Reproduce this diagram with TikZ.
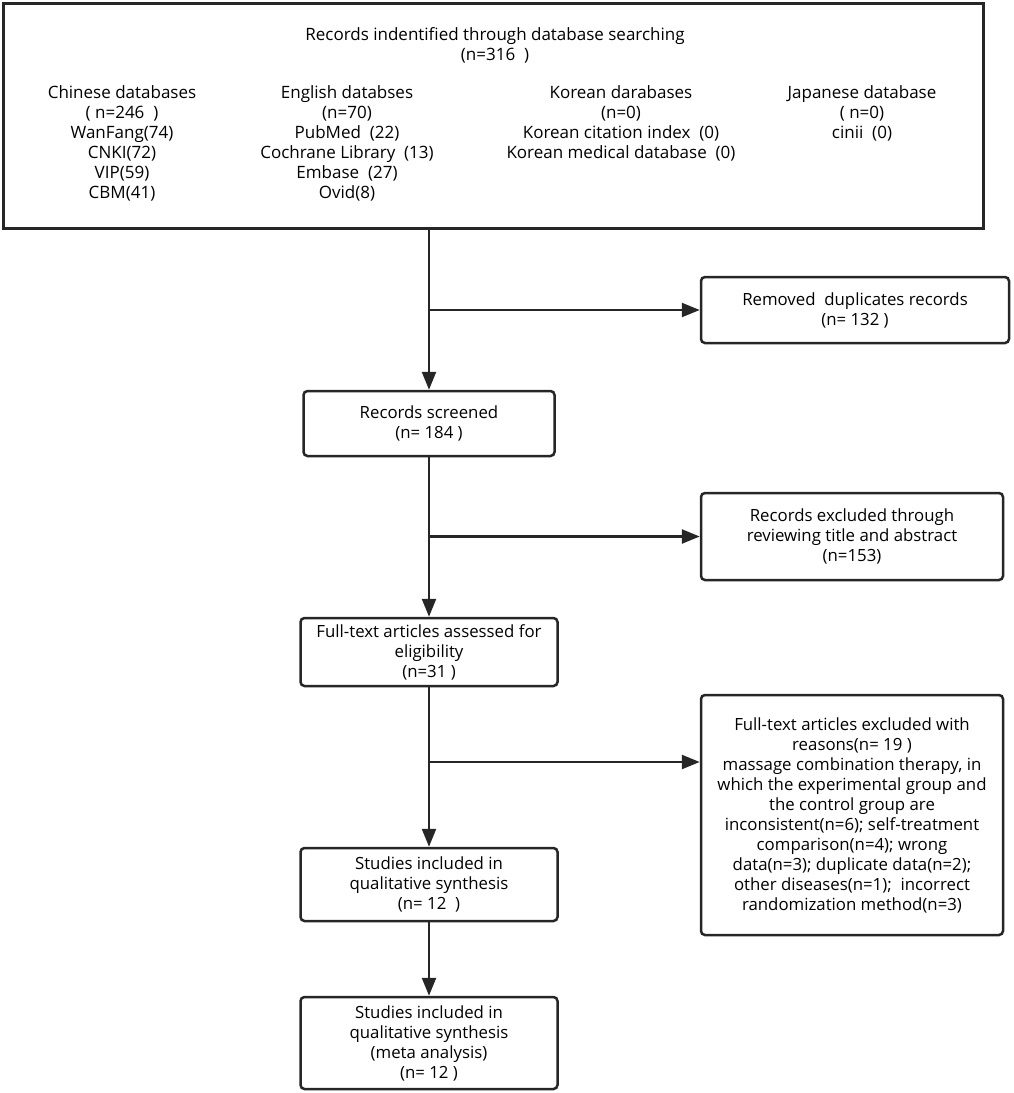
\documentclass[tikz,border=0pt]{standalone}
\usepackage{fontspec}
\setmainfont{Open Sans}
\newfontfamily\topfont{Open Sans}
\newfontfamily\condfont{Open Sans}
\usetikzlibrary{arrows.meta}
\definecolor{ln}{HTML}{262626}
\begin{document}
\begin{tikzpicture}[x=1pt,y=-1pt,
  box/.style={draw=ln, line width=2.5pt, rounded corners=4pt, align=center, inner sep=0pt,
    font=\condfont\fontsize{16.8}{20}\selectfont, text=black},
  toptxt/.style={align=center, inner sep=0pt, font=\topfont\fontsize{17}{20}\selectfont, text=black},
  arr/.style={draw=ln, line width=2.5pt, -{Triangle[length=18pt,width=14pt]}},
  ln2/.style={draw=ln, line width=2.5pt}]
\useasboundingbox (0,0) rectangle (1013,1093);
% top box
\node[draw=ln, line width=3pt, minimum width=980pt, minimum height=225pt, inner sep=0pt] (top) at (493,115.5) {};
\node[toptxt] (title) at (495,45) {Records indentified through database searching\\(n=316\ \ )};
\node[toptxt] (cn) at (122,143) {Chinese databases\\(\ n=246\ \ )\\WanFang(74)\\CNKI(72)\\VIP(59)\\CBM(41)};
\node[toptxt] (en) at (347,143) {English databses\\(n=70)\\PubMed\ \ (22)\\Cochrane Library\ \ (13)\\Embase\ \ (27)\\Ovid(8)};
\node[toptxt] (kr) at (621,123) {Korean darabases\\(n=0)\\Korean citation index\ \ (0)\\Korean medical database\ \ (0)};
\node[toptxt] (jp) at (862,113) {Japanese database\\(\ n=0)\\cinii\ \ (0)};
% left column
\node[box, minimum width=251pt, minimum height=65pt] (screened) at (429,423.5) {Records screened\\(n= 184 )};
\node[box, minimum width=257pt, minimum height=68pt] (full) at (429,652) {Full-text articles assessed for\\eligibility\\(n=31 )};
\node[box, minimum width=257pt, minimum height=73pt] (incl1) at (429,884.5) {Studies included in\\qualitative synthesis\\(n= 12\ \ )};
\node[box, minimum width=257pt, minimum height=92pt] (incl2) at (429,1043) {Studies included in\\qualitative synthesis\\(meta analysis)\\(n= 12 )};
% right column
\node[box, minimum width=308pt, minimum height=66pt] (removed) at (855,310) {Removed\ \ duplicates records\\(n= 132 )};
\node[box, minimum width=302pt, minimum height=87pt] (excl1) at (852,536.5) {Records excluded through\\reviewing title and abstract\\(n=153)};
\node[box, minimum width=302pt, minimum height=240pt] (excl2) at (852,815) {Full-text articles excluded with\\reasons(n= 19 )\\massage combination therapy, in\\which the experimental group and\\the control group are\\inconsistent(n=6); self-treatment\\comparison(n=4); wrong\\data(n=3); duplicate data(n=2);\\other diseases(n=1);\ \ incorrect\\randomization method(n=3)};
% connectors
\coordinate (t0) at (top.south -| screened.north);
\draw[arr] (t0) -- (screened.north);
\draw[arr] (screened.south) -- (full.north);
\draw[arr] (full.south) -- (incl1.north);
\draw[arr] (incl1.south) -- (incl2.north);
\coordinate (b1) at (429,310);
\coordinate (b2) at (429,536.5);
\coordinate (b3) at (429,762);
\draw[arr] (b1) -- (removed.west);
\draw[arr] (b2) -- (excl1.west);
\draw[arr] (b3) -- (b3 -| excl2.west);
\end{tikzpicture}
\end{document}
